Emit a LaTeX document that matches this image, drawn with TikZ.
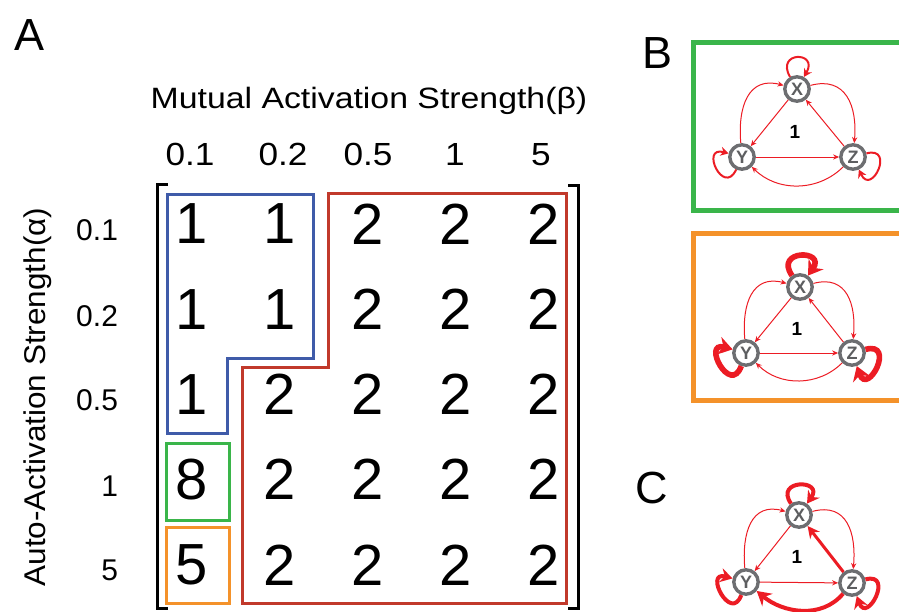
\documentclass[tikz,border=0pt]{standalone}
\usepackage{fontspec}
\setmainfont{Liberation Sans}
\usepackage{graphicx}
\usetikzlibrary{positioning, arrows.meta}

\definecolor{boxblue}{HTML}{3F5BA9}
\definecolor{boxred}{HTML}{C1392B}
\definecolor{boxgreen}{HTML}{3AB54A}
\definecolor{boxorange}{HTML}{F4922A}
\definecolor{linkred}{HTML}{EC1C24}
\definecolor{genegray}{HTML}{6D6E71}

\tikzset{
  cellnum/.style={font=\fontsize{29}{34}\selectfont},
  colval/.style={anchor=base, font=\fontsize{16}{19}\selectfont},
  rowval/.style={anchor=base east, font=\fontsize{15}{18}\selectfont},
  panel/.style={anchor=base, font=\fontsize{22.5}{27}\selectfont},
  gene/.style={circle, draw=genegray, line width=1.7pt, fill=white, minimum size=12.2pt, inner sep=0pt,
    text=genegray!85!black, font=\fontsize{9}{9}\selectfont\bfseries},
  netnum/.style={anchor=base, font=\fontsize{9.5}{10}\selectfont\bfseries},
  link/.style={draw=linkred, line width=0.5pt, -{Stealth[length=3pt,width=2.6pt]}},
  thinloop/.style={draw=linkred, line width=1pt, -{Stealth[length=4pt,width=4.5pt]}, min distance=15pt, max distance=15pt},
  fatloop/.style={draw=linkred, line width=2.8pt, -{Stealth[length=7pt,width=9pt]}, min distance=16pt, max distance=16pt},
  midloop/.style={draw=linkred, line width=2pt, -{Stealth[length=6pt,width=7pt]}, min distance=15pt, max distance=15pt}
}

\begin{document}
\begin{tikzpicture}[x=0.5pt, y=-0.5pt, node distance=44pt]
    \useasboundingbox (0,0) rectangle (899,611);

    % Panel letters
    \node (panelA) at (30,50) [panel] {A};
    \node (panelB) at (657,68) [panel] {B};
    \node (panelC) at (652,503) [panel] {C};

    % Axis titles
    \node (beta) at (369,108) [anchor=base, font=\fontsize{14.7}{17}\selectfont] {\scalebox{1.15}[1]{Mutual Activation Strength(β)}};
    \node (alpha) at (45,397) [anchor=base, rotate=90, font=\fontsize{15}{18}\selectfont] {\scalebox{1.05}[1]{Auto-Activation Strength(α)}};

    % Column values (beta)
    \node (c1) at (190,165) [colval] {\scalebox{1.1}[1]{0.1}};
    \node (c2) at (283,165) [colval] {\scalebox{1.1}[1]{0.2}};
    \node (c3) at (368,165) [colval] {\scalebox{1.1}[1]{0.5}};
    \node (c4) at (455,165) [colval] {\scalebox{1.1}[1]{1}};
    \node (c5) at (541,165) [colval] {\scalebox{1.1}[1]{5}};

    % Row values (alpha)
    \node (r1) at (125,240) [rowval] {0.1};
    \node (r2) at (125,326) [rowval] {0.2};
    \node (r3) at (125,410) [rowval] {0.5};
    \node (r4) at (125,496) [rowval] {1};
    \node (r5) at (125,580) [rowval] {5};

    % Matrix entries
    \node (m11) at (192,224) [cellnum] {1};
    \node (m12) [cellnum, right of=m11] {1};
    \node (m13) [cellnum, right of=m12] {2};
    \node (m14) [cellnum, right of=m13] {2};
    \node (m15) [cellnum, right of=m14] {2};
    \node (m21) [cellnum, below of=m11, node distance=42.6pt] {1};
    \node (m22) [cellnum, right of=m21] {1};
    \node (m23) [cellnum, right of=m22] {2};
    \node (m24) [cellnum, right of=m23] {2};
    \node (m25) [cellnum, right of=m24] {2};
    \node (m31) [cellnum, below of=m21, node distance=42.6pt] {1};
    \node (m32) [cellnum, right of=m31] {2};
    \node (m33) [cellnum, right of=m32] {2};
    \node (m34) [cellnum, right of=m33] {2};
    \node (m35) [cellnum, right of=m34] {2};
    \node (m41) [cellnum, below of=m31, node distance=42.6pt] {8};
    \node (m42) [cellnum, right of=m41] {2};
    \node (m43) [cellnum, right of=m42] {2};
    \node (m44) [cellnum, right of=m43] {2};
    \node (m45) [cellnum, right of=m44] {2};
    \node (m51) [cellnum, below of=m41, node distance=42.6pt] {5};
    \node (m52) [cellnum, right of=m51] {2};
    \node (m53) [cellnum, right of=m52] {2};
    \node (m54) [cellnum, right of=m53] {2};
    \node (m55) [cellnum, right of=m54] {2};

    % Brackets
    \draw[line width=1.5pt] (168,184) -- (157,184) -- (157,608) -- (168,608);
    \draw[line width=1.5pt] (568,185) -- (578,185) -- (578,608) -- (568,608);

    % Regions
    \draw[boxblue, line width=1.5pt] (167,194) -- (313,194) -- (313,358) -- (227,358) -- (227,433) -- (167,433) -- cycle;
    \draw[boxred, line width=1.5pt] (328,193) -- (566,193) -- (566,603) -- (242,603) -- (242,367) -- (328,367) -- cycle;
    \draw[boxgreen, line width=1.5pt] (166,443) rectangle (229,520);
    \draw[boxorange, line width=1.5pt] (166,527) rectangle (229,603);

    % Frames of panel B
    \draw[boxgreen, line width=2.5pt] (693.5,42.5) rectangle (910,210.5);
    \draw[boxorange, line width=2.5pt] (693.5,233.5) rectangle (910,400.5);

    % Network in green frame
    \node (xG) at (797,89) [gene] {X};
    \node (yG) [gene, on grid, below left=34pt and 27.5pt of xG] {Y};
    \node (zG) [gene, on grid, below right=34pt and 28pt of xG] {Z};
    \node (nG) at (795,138) [netnum] {1};
    \draw[link] (xG) -- (yG);
    \draw[link] (zG) -- (xG);
    \draw[link] (yG) -- (zG);
    \draw[link] (yG) to[out=95, in=165, looseness=1.3] (xG);
    \draw[link] (xG) to[out=15, in=85, looseness=1.3] (zG);
    \draw[link] (zG) to[out=-135, in=-45] (yG);
    \draw[thinloop] (xG) to[out=120, in=60] (xG);
    \draw[thinloop] (yG) to[out=-115, in=165] (yG);
    \draw[thinloop] (zG) to[out=15, in=-65] (zG);

    % Network in orange frame
    \node (xO) at (800,287) [gene] {X};
    \node (yO) [gene, on grid, below left=33pt and 27pt of xO] {Y};
    \node (zO) [gene, on grid, below right=33pt and 26pt of xO] {Z};
    \node (nO) at (797,335) [netnum] {1};
    \draw[link] (xO) -- (yO);
    \draw[link] (zO) -- (xO);
    \draw[link] (yO) -- (zO);
    \draw[link] (yO) to[out=95, in=165, looseness=1.3] (xO);
    \draw[link] (xO) to[out=15, in=85, looseness=1.3] (zO);
    \draw[link] (zO) to[out=-135, in=-45] (yO);
    \draw[fatloop] (xO) to[out=125, in=55] (xO);
    \draw[fatloop] (yO) to[out=-110, in=165] (yO);
    \draw[fatloop] (zO) to[out=15, in=-70] (zO);

    % Network of panel C
    \node (xC) at (799,515) [gene] {X};
    \node (yC) [gene, on grid, below left=33.5pt and 26.5pt of xC] {Y};
    \node (zC) [gene, on grid, below right=34pt and 26.5pt of xC] {Z};
    \node (nC) at (797,563) [netnum] {1};
    \draw[link] (xC) -- (yC);
    \draw[draw=linkred, line width=1.5pt, -{Stealth[length=6pt,width=6pt]}] (zC) -- (xC);
    \draw[link] (yC) -- (zC);
    \draw[link] (yC) to[out=95, in=165, looseness=1.3] (xC);
    \draw[link] (xC) to[out=15, in=85, looseness=1.3] (zC);
    \draw[draw=linkred, line width=2pt, -{Stealth[length=7pt,width=8pt]}] (zC) to[out=-130, in=-40] (yC);
    \draw[midloop] (xC) to[out=125, in=55] (xC);
    \draw[midloop] (yC) to[out=-110, in=165] (yC);
    \draw[midloop] (zC) to[out=15, in=-70] (zC);
\end{tikzpicture}
\end{document}
